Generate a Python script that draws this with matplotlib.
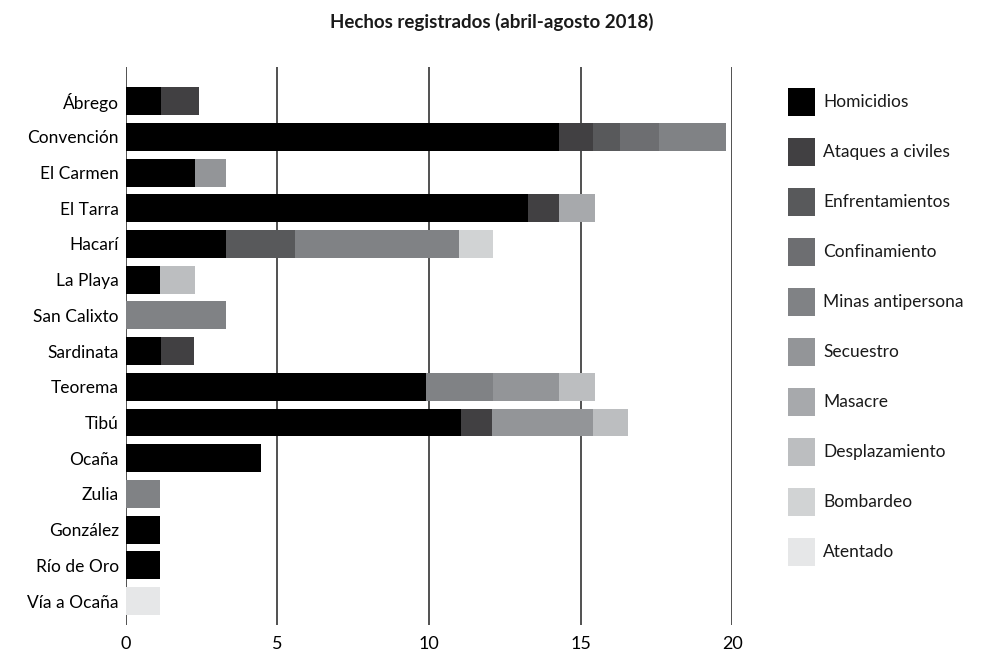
import matplotlib as mpl
mpl.use("Agg")
import matplotlib.pyplot as plt
from matplotlib.patches import Rectangle
import numpy as np

mpl.rcParams.update({"font.family": ["Lato", "DejaVu Sans"], "text.color": "#1a1a1a"})

# --- data (bar lengths, in axis units) --------------------------------------
municipios = ["Ábrego", "Convención", "El Carmen", "El Tarra", "Hacarí", "La Playa",
              "San Calixto", "Sardinata", "Teorema", "Tibú", "Ocaña", "Zulia",
              "González", "Río de Oro", "Vía a Ocaña"]
hechos = ["Homicidios", "Ataques a civiles", "Enfrentamientos", "Confinamiento",
          "Minas antipersona", "Secuestro", "Masacre", "Desplazamiento",
          "Bombardeo", "Atentado"]
colores = ["#000000", "#414042", "#58595b", "#6d6e71", "#808285",
           "#939598", "#a7a9ac", "#bcbec0", "#d1d3d4", "#e6e7e8"]

homicidios     = [1.17, 14.30, 2.27, 13.25, 3.31, 1.13, 0, 1.17, 9.91, 11.05, 4.45, 0, 1.13, 1.13, 0]
ataques        = [1.23, 1.12, 0, 1.04, 0, 0, 0, 1.07, 0, 1.04, 0, 0, 0, 0, 0]
enfrentamiento = [0, 0.86, 0, 0, 2.27, 0, 0, 0, 0, 0, 0, 0, 0, 0, 0]
confinamiento  = [0, 1.30, 0, 0, 0, 0, 0, 0, 0, 0, 0, 0, 0, 0, 0]
minas          = [0, 2.22, 0, 0, 5.40, 0, 3.31, 0, 2.21, 0, 0, 1.13, 0, 0, 0]
secuestro      = [0, 0, 1.04, 0, 0, 0, 0, 0, 2.17, 3.30, 0, 0, 0, 0, 0]
masacre        = [0, 0, 0, 1.17, 0, 0, 0, 0, 0, 0, 0, 0, 0, 0, 0]
desplazamiento = [0, 0, 0, 0, 0, 1.14, 0, 0, 1.17, 1.18, 0, 0, 0, 0, 0]
bombardeo      = [0, 0, 0, 0, 1.14, 0, 0, 0, 0, 0, 0, 0, 0, 0, 0]
atentado       = [0, 0, 0, 0, 0, 0, 0, 0, 0, 0, 0, 0, 0, 0, 1.13]

series = [homicidios, ataques, enfrentamiento, confinamiento, minas,
          secuestro, masacre, desplazamiento, bombardeo, atentado]

W, H = 983, 653
fig = plt.figure(figsize=(W / 100, H / 100), dpi=100)
ax = fig.add_axes([0.128, 0.043, 0.617, 0.854])

y = np.arange(len(municipios))
left = np.zeros(len(municipios))
for vals, col in zip(series, colores):
    vals = np.array(vals)
    ax.barh(y, vals, left=left, height=0.78, color=col, zorder=3)
    left += vals

for x in range(0, 21, 5):
    ax.axvline(x, color="#222222", lw=1.1, zorder=1)

ax.set_xlim(0, 20)
ax.set_ylim(14.67, -0.95)
ax.set_xticks(range(0, 21, 5))
ax.set_yticks(y)
ax.set_yticklabels(municipios, fontsize=12.5)
ax.tick_params(axis="both", length=0)
ax.tick_params(axis="x", labelsize=13, pad=8)
ax.tick_params(axis="y", pad=5)
for s in ax.spines.values():
    s.set_visible(False)

fig.text(0.5, 1 - 22 / H, "Hechos registrados (abril-agosto 2018)", fontsize=13.5,
         fontweight="bold", ha="center", va="center")

# legend: squares + labels placed in figure pixels
for i, (lab, col) in enumerate(zip(hechos, colores)):
    yc = 102 + 50 * i
    fig.add_artist(Rectangle((788 / W, 1 - (yc + 14) / H), 27 / W, 28 / H,
                             transform=fig.transFigure, color=col, lw=0))
    fig.text(823 / W, 1 - yc / H, lab, fontsize=12.5, ha="left", va="center")

fig.savefig("out.png", dpi=100)
